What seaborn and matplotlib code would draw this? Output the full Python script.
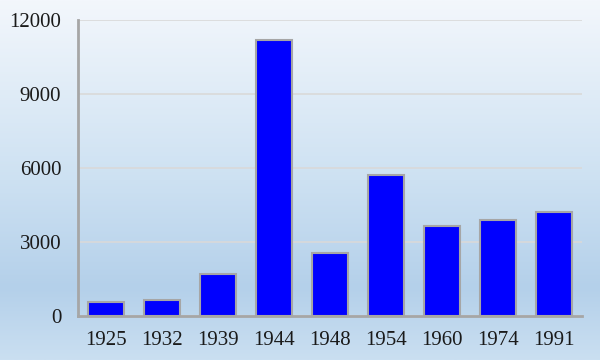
import numpy as np
import pandas as pd
import matplotlib
matplotlib.use("Agg")
import matplotlib.pyplot as plt
from matplotlib.colors import LinearSegmentedColormap
import seaborn as sns

years = ["1925", "1932", "1939", "1944", "1948", "1954", "1960", "1974", "1991"]
values = [560, 630, 1670, 11190, 2560, 5720, 3620, 3900, 4200]
yticks = [0, 3000, 6000, 9000, 12000]

df = pd.DataFrame({"year": years, "value": values})

sns.set_theme(style="white")
plt.rcParams["font.family"] = ["Liberation Serif", "DejaVu Serif"]

fig = plt.figure(figsize=(6, 3.6), dpi=100)

# background gradient
bg = fig.add_axes([0, 0, 1, 1], zorder=-10)
stops = [(0.0, (243/255, 247/255, 252/255)),
         (0.5, (205/255, 225/255, 242/255)),
         (0.8, (180/255, 208/255, 234/255)),
         (1.0, (202/255, 223/255, 241/255))]
cmap = LinearSegmentedColormap.from_list("bgg", stops)
grad = np.linspace(0, 1, 256).reshape(-1, 1)
bg.imshow(grad, aspect="auto", cmap=cmap, extent=[0, 1, 0, 1], origin="upper")
bg.set_axis_off()

ax = fig.add_axes([0.13, 0.1236, 0.84, 0.82])
ax.patch.set_alpha(0)
sns.barplot(data=df, x="year", y="value", ax=ax, color="#0000FF", saturation=1,
            width=0.66, edgecolor="#A6A6A6", linewidth=1.5, zorder=3)
ax.set_xlim(-0.5, 8.5)
ax.set_ylim(0, 12000)
ax.set_yticks(yticks)
ax.set_yticklabels([str(v) for v in yticks])
ax.yaxis.grid(True, color="#D9D9D9", linewidth=1.2, zorder=0)
ax.set_axisbelow(True)
ax.set_xlabel("")
ax.set_ylabel("")
for s in ["top", "right"]:
    ax.spines[s].set_visible(False)
for s in ["left", "bottom"]:
    ax.spines[s].set_color("#A6A6A6")
    ax.spines[s].set_linewidth(2)
    ax.spines[s].set_zorder(4)
ax.tick_params(axis="both", length=0, labelsize=15, colors="#1a1a1a")
ax.tick_params(axis="y", pad=12)
ax.tick_params(axis="x", pad=11)

fig.savefig("out.png", dpi=100)
